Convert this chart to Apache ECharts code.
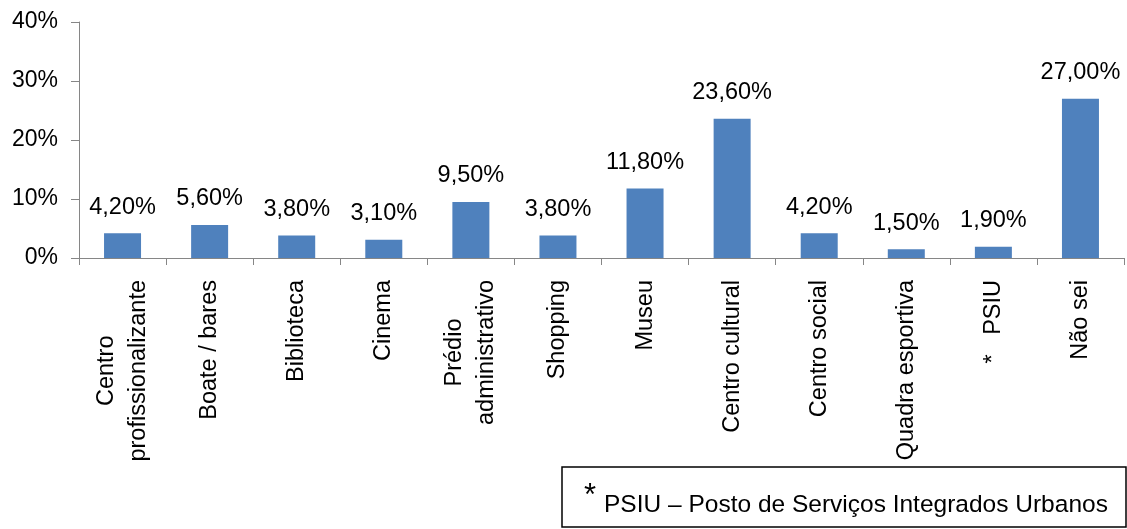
<!DOCTYPE html>
<html>
<head>
    <meta charset="utf-8">
    <title></title>
    <script src="https://cdn.jsdelivr.net/npm/echarts@6/dist/echarts.min.js"></script>
    <style>
        body{ margin: 0; }
        #chart{ width: 1127px; height: 529px; }
    </style>
</head>
<body>
<div id="chart"></div>
<script>
    // categorias (eixo x)
    var categories = ['Centro\nprofissionalizante', 'Boate / bares', 'Biblioteca', 'Cinema',
        'Prédio\nadministrativo', 'Shopping', 'Museu', 'Centro cultural', 'Centro social',
        'Quadra esportiva', '*   PSIU', 'Não sei'];
    // valores em %
    var values = [4.2, 5.6, 3.8, 3.1, 9.5, 3.8, 11.8, 23.6, 4.2, 1.5, 1.9, 27.0];
    var yTicks = [0, 10, 20, 30, 40];

    var font = 'Liberation Sans, Arial, sans-serif';
    var axisColor = '#868686';

    var option = {
        animation: false,
        grid: { left: 79, right: 3, top: 22, bottom: 271, containLabel: false },
        xAxis: {
            type: 'category',
            data: categories,
            axisLine: { lineStyle: { color: axisColor } },
            axisTick: { show: true, length: 7, lineStyle: { color: axisColor } },
            axisLabel: {
                interval: 0,
                rotate: 90,
                margin: 22,
                color: '#000',
                fontFamily: font,
                fontSize: 23.5,
                lineHeight: 32,
                formatter: function (v) {
                    // cada linha centrada no bloco
                    return v.split('\n').map(function (s) { return '{c|' + s + '}'; }).join('\n');
                },
                rich: {
                    c: { align: 'center', fontSize: 23.5, lineHeight: 32, fontFamily: font, color: '#000' }
                }
            }
        },
        yAxis: {
            type: 'value',
            min: yTicks[0],
            max: yTicks[yTicks.length - 1],
            interval: 10,
            splitLine: { show: false },
            axisLine: { show: true, lineStyle: { color: axisColor } },
            axisTick: { show: true, length: 8, lineStyle: { color: axisColor } },
            axisLabel: {
                margin: 21,
                color: '#000',
                fontFamily: font,
                fontSize: 23,
                formatter: '{value}%'
            }
        },
        series: [{
            type: 'bar',
            data: values,
            barWidth: 37,
            itemStyle: { color: '#4F81BD' },
            label: {
                show: true,
                position: 'top',
                distance: 14,
                color: '#000',
                fontFamily: font,
                fontSize: 23.5,
                formatter: function (p) {
                    return p.value.toFixed(2).replace('.', ',') + '%';
                }
            }
        }],
        graphic: [
            {
                type: 'rect',
                shape: { x: 562, y: 467, width: 564, height: 60 },
                style: { fill: '#fff', stroke: '#000', lineWidth: 1.5 }
            },
            {
                type: 'text',
                left: 584,
                top: 481,
                style: { text: '*', fill: '#000', font: '31px ' + font }
            },
            {
                type: 'text',
                left: 604,
                top: 493,
                style: { text: 'PSIU – Posto de Serviços Integrados Urbanos', fill: '#000', font: '24.5px ' + font }
            }
        ]
    };

    var myChart = echarts.init(document.getElementById('chart'));
    myChart.setOption(option);
</script>
</body>
</html>
